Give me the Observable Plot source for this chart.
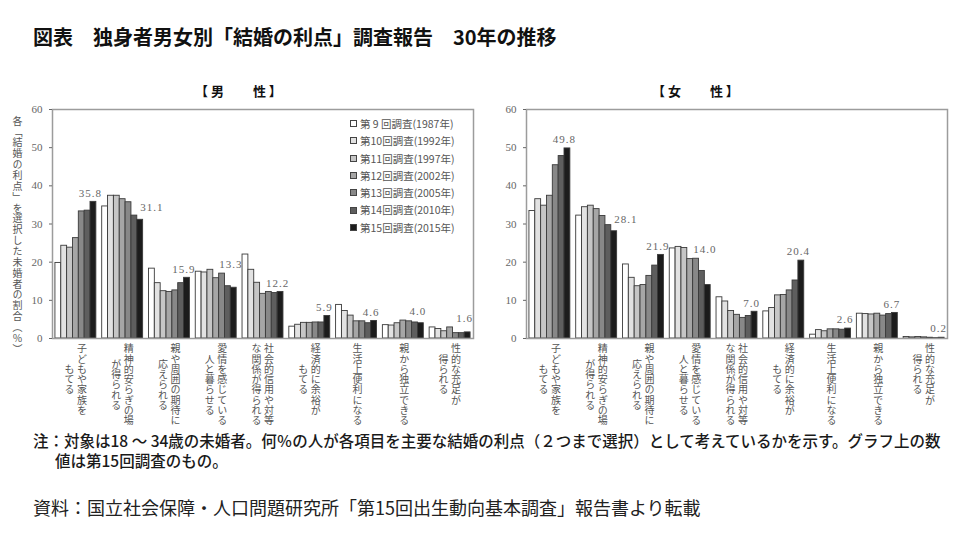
<!DOCTYPE html>
<html><head><meta charset="utf-8">
<script src="https://cdn.jsdelivr.net/npm/d3@7"></script>
<script src="https://cdn.jsdelivr.net/npm/@observablehq/plot@0.6"></script>
<style>
html,body{margin:0;padding:0;background:#fff;}
#page{position:relative;width:960px;height:540px;overflow:hidden;background:#fff;font-family:"Noto Sans CJK JP","Noto Sans",sans-serif;}
.abs{position:absolute;white-space:nowrap;}
#title{left:33px;top:24px;font-size:20px;font-weight:700;color:#111;line-height:26px;}
.ptitle{top:83px;font-size:13px;font-weight:700;color:#111;line-height:16px;}
#ytitle{left:11px;top:116px;writing-mode:vertical-rl;font-size:10px;letter-spacing:0.85px;color:#555;line-height:12px;}
#legend{left:350px;top:115px;font-size:10.5px;color:#555;}
#legend .row{height:17.3px;line-height:17.3px;display:flex;align-items:center;}
#legend .sw{display:inline-block;width:5px;height:5px;border:1px solid #444;margin-right:3px;}
.note{font-size:15.5px;color:#1a1a1a;line-height:20px;font-weight:500;}
#source{left:33px;top:496px;font-size:18px;color:#222;line-height:22px;}
#male{position:absolute;left:0;top:100px;}
#female{position:absolute;left:480px;top:100px;}
</style></head><body>
<div id="page">
  <div id="title" class="abs">図表　独身者男女別「結婚の利点」調査報告　30年の推移</div>
  <div class="abs ptitle" style="left:195px">【 男　　 性 】</div>
  <div class="abs ptitle" style="left:652px">【 女　　 性 】</div>
  <div id="male"></div>
  <div id="female"></div>
  <div id="ytitle" class="abs">各「結婚の利点」を選択した未婚者の割合（％）</div>
  <div id="legend" class="abs"></div>
  <div class="abs note" style="left:33px;top:430px">注：対象は18 ～ 34歳の未婚者。何％の人が各項目を主要な結婚の利点（２つまで選択）として考えているかを示す。グラフ上の数</div>
  <div class="abs note" style="left:55px;top:450px">値は第15回調査のもの。</div>
  <div id="source" class="abs">資料：国立社会保障・人口問題研究所「第15回出生動向基本調査」報告書より転載</div>
</div>
<script>
// ---- data ----
const categories = [
  "子どもや家族を\nもてる",
  "精神的安らぎの場\nが得られる",
  "親や周囲の期待に\n応えられる",
  "愛情を感じている\n人と暮らせる",
  "社会的信用や対等\nな関係が得られる",
  "経済的に余裕が\nもてる",
  "生活上便利になる",
  "親から独立できる",
  "性的な充足が\n得られる"
];
const surveys = [
  "第 9 回調査(1987年)",
  "第10回調査(1992年)",
  "第11回調査(1997年)",
  "第12回調査(2002年)",
  "第13回調査(2005年)",
  "第14回調査(2010年)",
  "第15回調査(2015年)"
];
const yTicks = [0, 10, 20, 30, 40, 50, 60];

const men1987 = [19.8, 34.6, 18.3, 17.5, 22.0, 3.1, 8.8, 3.5, 2.9];
const men1992 = [24.3, 37.4, 14.5, 17.3, 18.0, 3.6, 7.2, 3.4, 2.5];
const men1997 = [23.8, 37.4, 12.4, 18.0, 14.6, 4.1, 6.0, 4.0, 1.9];
const men2002 = [26.3, 36.5, 12.2, 15.8, 11.7, 4.1, 4.5, 4.7, 2.9];
const men2005 = [33.3, 35.7, 12.6, 17.0, 12.2, 4.2, 4.5, 4.5, 1.4];
const men2010 = [33.5, 32.2, 14.5, 13.7, 11.9, 4.2, 4.0, 4.2, 1.4];
const men2015 = [35.8, 31.1, 15.9, 13.3, 12.2, 5.9, 4.6, 4.0, 1.6];

const women1987 = [33.4, 32.2, 19.4, 23.6, 10.8, 7.1, 1.0, 6.5, 0.4];
const women1992 = [36.5, 34.4, 15.9, 24.0, 9.7, 8.0, 2.2, 6.4, 0.3];
const women1997 = [34.8, 34.8, 13.7, 23.7, 7.2, 11.3, 1.9, 6.3, 0.4];
const women2002 = [37.4, 33.9, 14.0, 20.8, 6.2, 11.4, 2.4, 6.5, 0.3];
const women2005 = [45.4, 32.1, 16.4, 20.9, 5.4, 12.6, 2.4, 6.0, 0.2];
const women2010 = [47.8, 29.7, 19.1, 17.7, 5.9, 15.2, 2.3, 6.4, 0.1];
const women2015 = [49.8, 28.1, 21.9, 14.0, 7.0, 20.4, 2.6, 6.7, 0.2];

// ---- style ----
const surveyColors = ["#ffffff", "#e2e2e2", "#c6c6c6", "#a6a6a6", "#888888", "#5e5e5e", "#1c1c1c"];
const labelBeside = new Set([categories[1]]); // value label placed beside the last bar
const pitch = 10.3;

function panel(series, marginLeft, marginRight) {
  const rows = [];
  categories.forEach((cat, c) => series.forEach((vals, s) =>
    rows.push({c, cat, survey: surveys[s], key: `${c}-${s}`, value: vals[c]})));
  const domain = [];
  categories.forEach((cat, c) => {
    surveys.forEach((sv, s) => domain.push(`${c}-${s}`));
    if (c < categories.length - 1) domain.push(`${c}-gap`);
  });
  const last = series.length - 1;
  const labels = categories.map((cat, c) => {
    const vals = series.map(v => v[c]);
    const v = vals[last];
    const beside = labelBeside.has(cat);
    return {key: `${c}-${last}`, v, beside,
      y: beside ? v + 3.2 : Math.max(...vals.slice(-4)) + 2.3};
  });
  const marks = [
    Plot.barY(rows, {x: "key", y: "value", fill: "survey", stroke: "#3a3a3a", strokeWidth: 0.9}),
    Plot.frame({stroke: "#9c9c9c", strokeWidth: 1.5}),
    Plot.axisY({ticks: yTicks, tickSize: 3, tickPadding: 7, label: null, fontSize: 11, color: "#666"}),
    Plot.text(labels.filter(d => !d.beside), {x: "key", y: "y", text: d => d.v.toFixed(1), dx: -3,
      fontSize: 11, fill: "#666", ariaLabel: () => "value label"}),
    Plot.text(labels.filter(d => d.beside), {x: "key", y: "y", text: d => d.v.toFixed(1), dx: 0, textAnchor: "start",
      fontSize: 11, fill: "#666", ariaLabel: () => "value label"})
  ];
  categories.forEach((cat, c) => {
    const cols = cat.split("\n");
    const n1 = [...cols[0]].length;
    cols.forEach((col, i) => {
      const n = [...col].length;
      marks.push(Plot.text([col], {
        x: () => `${c}-3`, text: d => d,
        frameAnchor: "bottom", textAnchor: "start", lineAnchor: "top",
        dy: 5 + (n1 - n) / 2 * pitch,
        dx: cols.length === 1 ? 1 : (i === 0 ? 6 : -6.5),
        fontSize: 10, fill: "#555",
        fontFamily: "'Noto Sans CJK JP', sans-serif",
        ariaLabel: () => "category label"
      }));
    });
  });
  const svg = Plot.plot({
    width: 480, height: 333,
    marginLeft, marginRight, marginTop: 9, marginBottom: 95,
    x: {type: "band", domain, paddingInner: 0, paddingOuter: 0.5, axis: null},
    y: {domain: [0, 60], label: null},
    color: {domain: surveys, range: surveyColors},
    style: {fontFamily: "'Liberation Serif', 'DejaVu Serif', serif", fontSize: "11px", background: "transparent", overflow: "visible"},
    marks
  });
  d3.select(svg).selectAll('text[aria-label="value label"]').style("letter-spacing", "1px");
  d3.select(svg).selectAll('text[aria-label="category label"]')
    .attr("y", null)
    .style("writing-mode", "vertical-rl")
    .style("letter-spacing", `${pitch - 10}px`);
  return svg;
}

document.getElementById("male").append(panel([men1987, men1992, men1997, men2002, men2005, men2010, men2015], 52, 7));
document.getElementById("female").append(panel([women1987, women1992, women1997, women2002, women2005, women2010, women2015], 46, 13));

const legend = d3.select("#legend");
surveys.forEach((s, i) => {
  const row = legend.append("div").attr("class", "row");
  row.append("span").attr("class", "sw").style("background", surveyColors[i]);
  row.append("span").text(s);
});
</script>
</body></html>
